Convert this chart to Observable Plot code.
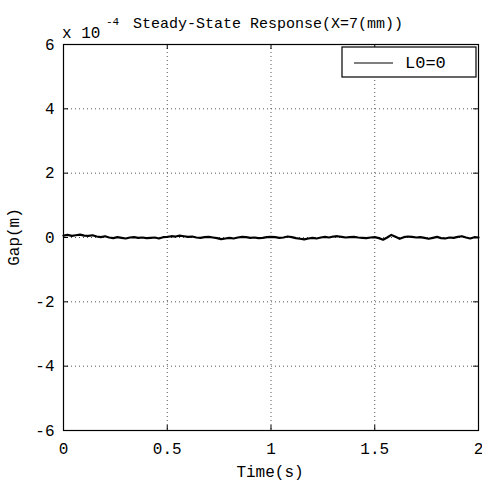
<!DOCTYPE html>
<html>
<head>
<meta charset="utf-8">
<script src="https://cdn.jsdelivr.net/npm/d3@7"></script>
<script src="https://cdn.jsdelivr.net/npm/@observablehq/plot@0.6"></script>
<style>
  html, body { margin: 0; padding: 0; background: #fff; }
</style>
</head>
<body>
<div id="chart"></div>
<script>
// Data
const titleText = "Steady-State Response(X=7(mm))";
const xLabel = "Time(s)";
const yLabel = "Gap(m)";
const legendLabel = "L0=0";
const xTicks = [0, 0.5, 1, 1.5, 2];
const xTickLabels = ["0", "0.5", "1", "1.5", "2"];
const yTicks = [-6e-4, -4e-4, -2e-4, 0, 2e-4, 4e-4, 6e-4];
const yTickLabels = ["-6", "-4", "-2", "0", "2", "4", "6"];
const dt = 0.02;
// Gap values in micrometres (1e-6 m), sampled every 0.02 s from 0 to 2 s
const gapMicro = [
  6, 8, 5, 7, 9, 6, 5, 7, 3, 1,
  4, 0, -2, 1, -1, -3, 0, 1, -1, 0,
  -2, -1, 0, -3, 1, 2, 4, 3, 6, 4,
  2, 3, 0, -1, 1, 2, 0, -2, -5, -3,
  -1, -3, 0, 2, 1, -1, 0, -2, -1, 1,
  2, 1, -1, 0, 3, 1, -2, -4, -6, -3,
  -1, -3, 0, 2, 0, 3, 4, 2, 0, 1,
  2, 0, -1, -2, 0, 1, -2, -7, 0, 8,
  2, -4, 1, 3, 2, 0, 1, -1, -4, -1,
  2, -2, -3, 0, -1, 2, 4, 0, -3, 1,
  0
];
const data = gapMicro.map((v, i) => ({t: i * dt, gap: v * 1e-6}));

const font = "Liberation Mono, DejaVu Sans Mono, monospace";
const yMin = yTicks[0], yMax = yTicks[yTicks.length - 1];
const xMin = xTicks[0], xMax = xTicks[xTicks.length - 1];

const chart = Plot.plot({
  width: 482,
  height: 485,
  marginLeft: 63,
  marginRight: 4,
  marginTop: 44,
  marginBottom: 55,
  style: {fontFamily: font, fontSize: "15px", background: "#fff", color: "#000"},
  x: {domain: [xMin, xMax]},
  y: {domain: [yMin, yMax]},
  marks: [
    Plot.gridX(xTicks, {stroke: "#555", strokeOpacity: 1, strokeDasharray: "1,3"}),
    Plot.gridY(yTicks, {stroke: "#555", strokeOpacity: 1, strokeDasharray: "1,3"}),
    Plot.line(data, {x: "t", y: "gap", stroke: "#000", strokeWidth: 2.2}),
    // inward ticks (bottom/top/left/right)
    Plot.ruleX(xTicks, {x: d => d, y1: yMin, y2: yMin, insetTop: -5, stroke: "#000"}),
    Plot.ruleX(xTicks, {x: d => d, y1: yMax, y2: yMax, insetBottom: -5, stroke: "#000"}),
    Plot.ruleY(yTicks, {y: d => d, x1: xMin, x2: xMin, insetRight: -5, stroke: "#000"}),
    Plot.ruleY(yTicks, {y: d => d, x1: xMax, x2: xMax, insetLeft: -5, stroke: "#000"}),
    Plot.axisX(xTicks, {tickSize: 0, tickPadding: 12, tickFormat: (d, i) => xTickLabels[i], label: null, fontSize: 16}),
    Plot.axisY(yTicks, {tickSize: 0, tickPadding: 9, tickFormat: (d, i) => yTickLabels[i], label: null, fontSize: 16}),
    Plot.frame({stroke: "#000", strokeWidth: 1.2})
  ]
});

const svg = d3.select(chart);
svg.attr("font-family", font);
// Title
svg.append("text").attr("x", 268).attr("y", 28).attr("text-anchor", "middle")
  .attr("font-size", 15).attr("fill", "#000").text(titleText);
// Exponent
svg.append("text").attr("x", 62).attr("y", 38).attr("text-anchor", "start")
  .attr("font-size", 16).attr("fill", "#000").text("x 10");
svg.append("text").attr("x", 106).attr("y", 25).attr("text-anchor", "start")
  .attr("font-size", 11).attr("fill", "#000").text("-4");
// Axis labels
svg.append("text").attr("x", 270).attr("y", 477).attr("text-anchor", "middle")
  .attr("font-size", 16).attr("fill", "#000").text(xLabel);
svg.append("text").attr("transform", "translate(15,237) rotate(-90)").attr("text-anchor", "middle")
  .attr("dominant-baseline", "central").attr("font-size", 16).attr("fill", "#000").text(yLabel);
// Legend
const lg = svg.append("g");
lg.append("rect").attr("x", 342).attr("y", 47).attr("width", 134).attr("height", 30)
  .attr("fill", "#fff").attr("stroke", "#000").attr("stroke-width", 1.2);
lg.append("line").attr("x1", 354).attr("x2", 393).attr("y1", 63).attr("y2", 63)
  .attr("stroke", "#000").attr("stroke-width", 1.2);
lg.append("text").attr("x", 405).attr("y", 63).attr("text-anchor", "start")
  .attr("dominant-baseline", "central").attr("font-size", 17).attr("fill", "#000").text(legendLabel);

document.getElementById("chart").appendChild(chart);
</script>
</body>
</html>
